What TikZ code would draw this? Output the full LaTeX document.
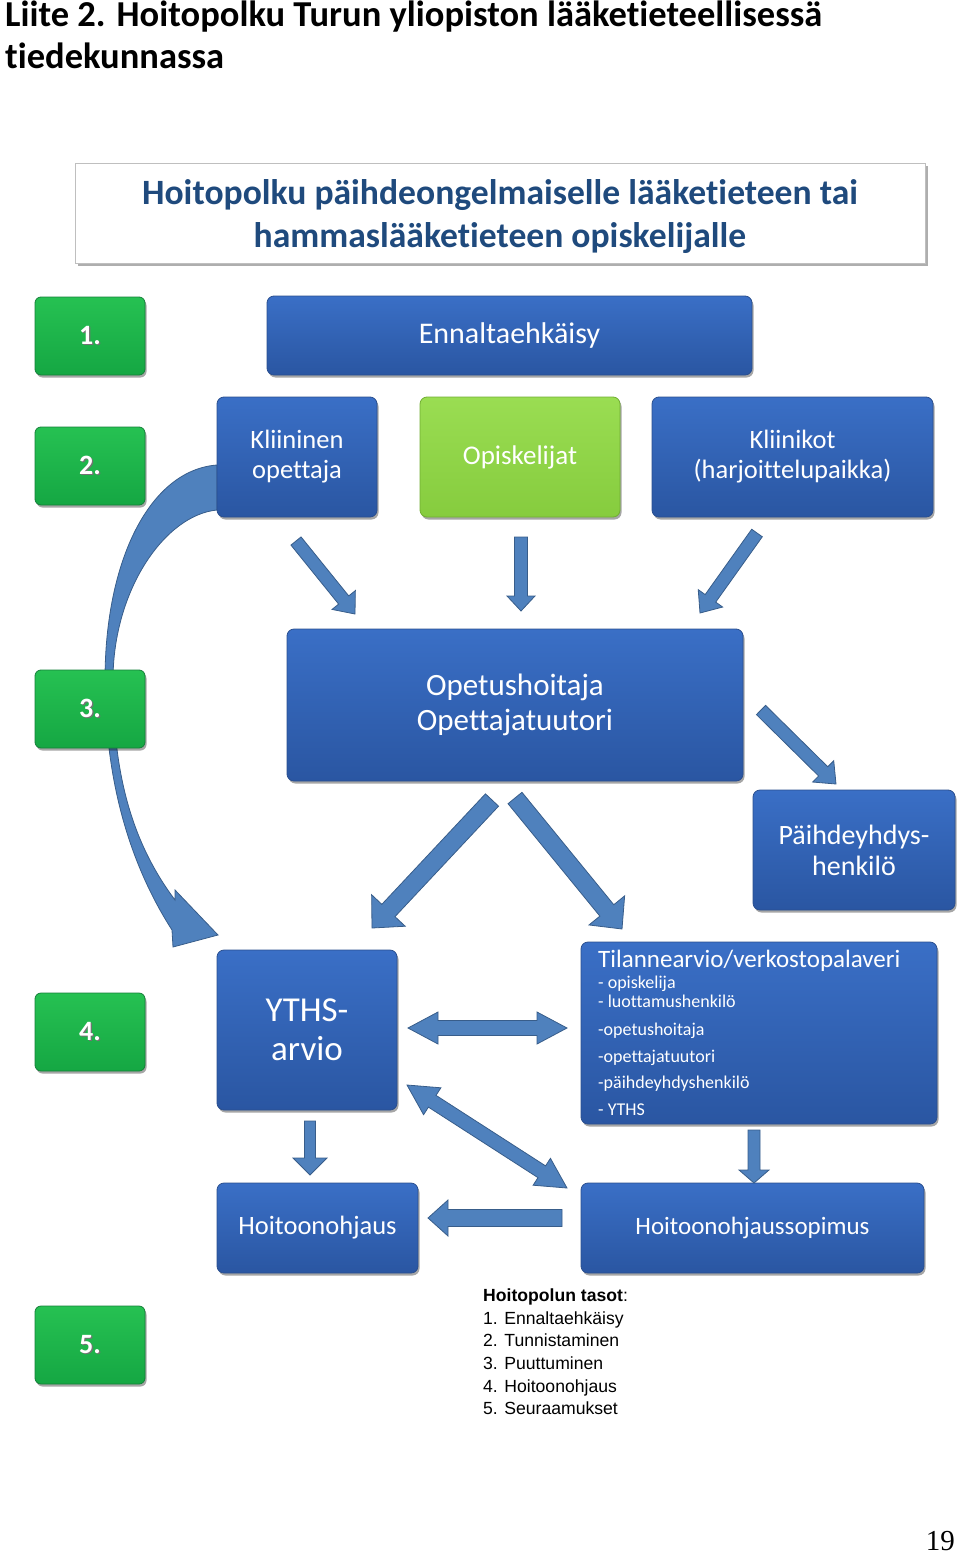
\documentclass[tikz,border=0pt]{standalone}
\usepackage{fontspec}
\setmainfont{Carlito}[Ligatures=NoCommon]
\newfontfamily\arialf{Liberation Sans}
\newfontfamily\timesf{Liberation Serif}
\usetikzlibrary{calc,shadows}
\definecolor{btop}{HTML}{3A6FC6}
\definecolor{bbot}{HTML}{2A56A2}
\definecolor{bdraw}{HTML}{2A4F8F}
\definecolor{gtop}{HTML}{26C152}
\definecolor{gbot}{HTML}{15A743}
\definecolor{gdraw}{HTML}{15803A}
\definecolor{lgtop}{HTML}{9ADD52}
\definecolor{lgbot}{HTML}{86CC3E}
\definecolor{lgdraw}{HTML}{72AE33}
\definecolor{afill}{HTML}{4F81BD}
\definecolor{adraw}{HTML}{385D8A}
\definecolor{titleblue}{HTML}{1F4A7D}
\newcommand{\numtxt}[1]{\makebox[0pt][l]{\kern1.3pt\raisebox{-1.3pt}{\color{black!55}#1}}#1}
\tikzset{
  boxbase/.style={rounded corners=7pt, line width=0.8pt, align=center, inner sep=0pt, text=white,
    drop shadow={shadow xshift=1.5pt, shadow yshift=-2.5pt, opacity=0.35, fill=black}},
  bluebox/.style={boxbase, draw=bdraw, top color=btop, bottom color=bbot},
  greenbox/.style={boxbase, rounded corners=6pt, draw=gdraw, top color=gtop, bottom color=gbot,
    minimum width=110pt, minimum height=78pt, font=\bfseries\fontsize{28}{32}\selectfont},
  lgreenbox/.style={boxbase, draw=lgdraw, top color=lgtop, bottom color=lgbot},
  titlebox/.style={draw=black!25, line width=0.8pt, fill=white, minimum width=850pt, minimum height=100pt,
    inner sep=0pt, drop shadow={shadow xshift=3pt, shadow yshift=-3pt, fill=black!45, opacity=0.7}},
  titletext/.style={align=center, inner sep=0pt, text=titleblue, font=\bfseries\fontsize{35.6}{43}\selectfont},
  arrowsty/.style={fill=afill, draw=adraw, line width=0.8pt, line join=miter},
  listtext/.style={anchor=base west, inner sep=0pt, text=white, font=\fontsize{18}{20}\selectfont},
  legtext/.style={anchor=base west, inner sep=0pt, font=\arialf\fontsize{17.6}{21}\selectfont},
  headtext/.style={anchor=base west, inner sep=0pt, font=\bfseries\fontsize{36.5}{43}\selectfont},
}
% single block arrow: name, tail, tip, shaft half width, head half width, head length
\newcommand{\blockarr}[6]{%
  \coordinate (#1-t) at #2; \coordinate (#1-h) at #3;
  \coordinate (#1-b) at ($(#1-h)!#6pt!(#1-t)$);
  \draw[arrowsty] ($(#1-t)!#4pt!90:(#1-h)$) -- ($(#1-b)!#4pt!-90:(#1-t)$) -- ($(#1-b)!#5pt!-90:(#1-t)$)
    -- (#1-h) -- ($(#1-b)!#5pt!90:(#1-t)$) -- ($(#1-b)!#4pt!90:(#1-t)$) -- ($(#1-t)!#4pt!-90:(#1-h)$) -- cycle;}
% double block arrow
\newcommand{\dblarr}[6]{%
  \coordinate (#1-t) at #2; \coordinate (#1-h) at #3;
  \coordinate (#1-b) at ($(#1-h)!#6pt!(#1-t)$);
  \coordinate (#1-c) at ($(#1-t)!#6pt!(#1-h)$);
  \draw[arrowsty] (#1-t) -- ($(#1-c)!#5pt!90:(#1-h)$) -- ($(#1-c)!#4pt!90:(#1-h)$)
    -- ($(#1-b)!#4pt!-90:(#1-t)$) -- ($(#1-b)!#5pt!-90:(#1-t)$) -- (#1-h)
    -- ($(#1-b)!#5pt!90:(#1-t)$) -- ($(#1-b)!#4pt!90:(#1-t)$)
    -- ($(#1-c)!#4pt!-90:(#1-h)$) -- ($(#1-c)!#5pt!-90:(#1-h)$) -- cycle;}
\begin{document}
\begin{tikzpicture}[x=1pt,y=-1pt]
\useasboundingbox (0,0) rectangle (960,1554);
% header
\node[headtext] (h1) at (5,27) {Liite 2. Hoitopolku Turun yliopiston lääketieteellisessä};
\node[headtext] (h2) at (5,69) {tiedekunnassa};
% title box
\node[titlebox] (title) at (500,213) {};
\node[titletext] (titletxt) at (500,217) {Hoitopolku päihdeongelmaiselle lääketieteen tai\\hammaslääketieteen opiskelijalle};
% curved arrow (behind boxes)
\coordinate (cs) at (217,465);
\draw[arrowsty] (cs) .. controls (150,470) and (105,560) .. (105,680)
  .. controls (105,800) and (140,880) .. (172,930) -- (173,947) -- (218,935) -- (175,890) -- (175,900)
  .. controls (130,840) and (113,770) .. (113,680)
  .. controls (113,590) and (165,515) .. (217,510) -- cycle;
% level boxes
\node[greenbox] (n1) at (90,336) {\numtxt{1.}};
\node[greenbox] (n2) at (90,466) {\numtxt{2.}};
\node[greenbox] (n3) at (90,709) {\numtxt{3.}};
\node[greenbox] (n4) at (90,1032) {\numtxt{4.}};
\node[greenbox] (n5) at (90,1345) {\numtxt{5.}};
% blue boxes
\node[bluebox, minimum width=485pt, minimum height=79pt, font=\fontsize{30}{36}\selectfont] (enn) at (509.5,335.5) {Ennaltaehkäisy};
\node[bluebox, minimum width=160pt, minimum height=120pt, font=\fontsize{26.5}{30}\selectfont] (klin) at (297,457) {Kliininen\\opettaja};
\node[lgreenbox, minimum width=200pt, minimum height=120pt, font=\fontsize{27}{31}\selectfont] (opisk) at (520,457) {Opiskelijat};
\node[bluebox, minimum width=281pt, minimum height=120pt, font=\fontsize{26.5}{30}\selectfont] (kliinikot) at (792.5,457) {Kliinikot\\(harjoittelupaikka)};
\node[bluebox, minimum width=456pt, minimum height=152pt, font=\fontsize{31}{35}\selectfont] (opetus) at (515,705) {Opetushoitaja\\Opettajatuutori};
\node[bluebox, minimum width=202pt, minimum height=120pt, font=\fontsize{28}{31}\selectfont] (paihde) at (854,850) {Päihdeyhdys-\\henkilö};
\node[bluebox, minimum width=180pt, minimum height=160pt, font=\fontsize{35}{39}\selectfont] (yths) at (307,1030) {YTHS-\\arvio};
\node[bluebox, minimum width=356pt, minimum height=182pt] (tila) at (759,1033) {};
\node[bluebox, minimum width=201pt, minimum height=90pt, font=\fontsize{26.5}{30}\selectfont] (hoito) at (317.5,1228) {Hoitoonohjaus};
\node[bluebox, minimum width=343pt, minimum height=90pt, font=\fontsize{25}{30}\selectfont] (sopimus) at (752.5,1228) {Hoitoonohjaussopimus};
% text of the Tilannearvio box
\node[listtext, font=\fontsize{25}{30}\selectfont] (tl0) at (598,967) {Tilannearvio/verkostopalaveri};
\node[listtext] (tl1) at (598,988) {- opiskelija};
\node[listtext] (tl2) at (598,1007) {- luottamushenkilö};
\node[listtext] (tl3) at (598,1035) {-opetushoitaja};
\node[listtext] (tl4) at (598,1062) {-opettajatuutori};
\node[listtext] (tl5) at (598,1088) {-päihdeyhdyshenkilö};
\node[listtext] (tl6) at (598,1115) {- YTHS};
% block arrows
\blockarr{a1}{(296,541)}{(355,614)}{6.5}{15}{18}
\blockarr{a2}{(521,537)}{(521,611)}{6.5}{14}{15}
\blockarr{a3}{(757,533)}{(700,613)}{6.5}{15}{18}
\blockarr{a4}{(761,710)}{(836,784)}{6.5}{15}{18}
\blockarr{a5}{(492,800)}{(372,928)}{9}{23}{24}
\blockarr{a6}{(515,798)}{(622,929)}{9}{23}{24}
\dblarr{a7}{(408,1028)}{(567,1028)}{7.5}{16}{30}
\dblarr{a8}{(407,1085)}{(567,1188)}{7}{16}{30}
\blockarr{a9}{(310,1121)}{(310,1175)}{5.5}{17}{17}
\blockarr{a10}{(562,1218)}{(428,1218)}{8.5}{18}{20}
\blockarr{a11}{(754,1130)}{(754,1183)}{6}{15}{13}
% legend
\node[legtext] (l0) at (483,1301) {\textbf{Hoitopolun tasot}:};
\node[legtext] (l1) at (483,1324) {1. Ennaltaehkäisy};
\node[legtext] (l2) at (483,1346) {2. Tunnistaminen};
\node[legtext] (l3) at (483,1369) {3. Puuttuminen};
\node[legtext] (l4) at (483,1392) {4. Hoitoonohjaus};
\node[legtext] (l5) at (483,1414) {5. Seuraamukset};
% page number
\node[anchor=base east, inner sep=0pt, font=\timesf\fontsize{29}{32}\selectfont] (page) at (955,1550) {19};
\end{tikzpicture}
\end{document}
